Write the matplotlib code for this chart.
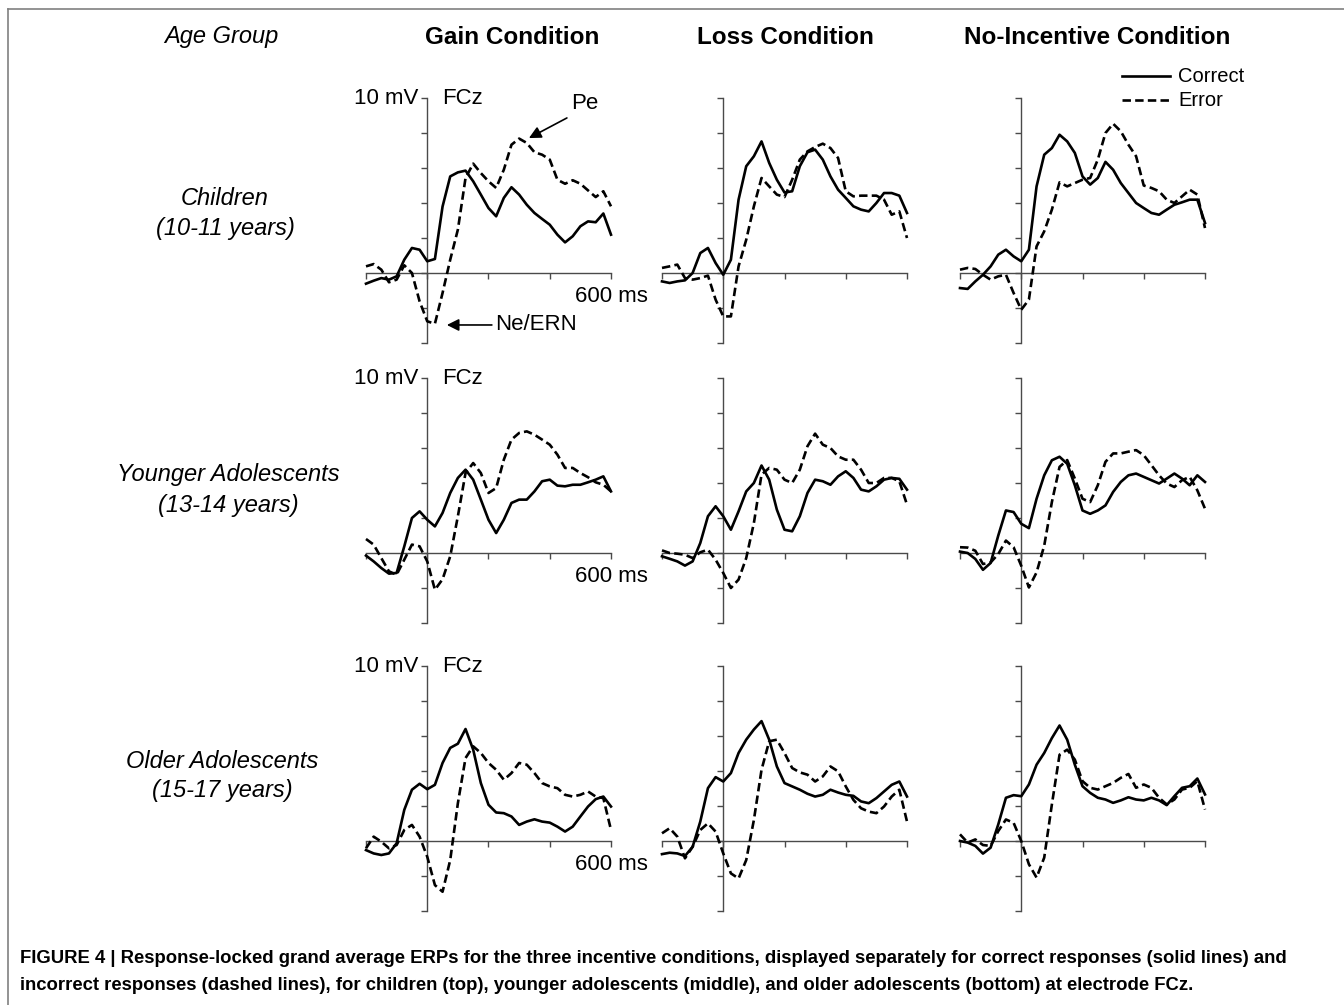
import numpy as np
import matplotlib
matplotlib.use("Agg")
import matplotlib.pyplot as plt
from matplotlib.lines import Line2D

plt.rcParams['font.family'] = ['Liberation Sans', 'DejaVu Sans']

W, H = 1344, 1005

# time grid (ms) and grand averages (mV)
times = [-200, -175, -150, -125, -100, -75, -50, -25, 0, 25, 50, 75, 100, 125, 150, 175,
         200, 225, 250, 275, 300, 325, 350, 375, 400, 425, 450, 475, 500, 525, 550, 575, 600]

gain_child_correct = [-0.61, -0.44, -0.29, -0.38, -0.19, 0.76, 1.43, 1.33, 0.67, 0.8, 3.8, 5.52, 5.75, 5.85,
                      5.24, 4.48, 3.71, 3.24, 4.29, 4.9, 4.48, 3.9, 3.43, 3.09, 2.76, 2.19, 1.75, 2.1, 2.67,
                      2.95, 2.9, 3.4, 2.19]
gain_child_error = [0.38, 0.51, 0.19, -0.53, -0.38, 0.44, 0.0, -1.62, -2.76, -2.9, -1.14, 0.76, 2.48, 5.43,
                    6.25, 5.71, 5.24, 4.86, 5.9, 7.33, 7.68, 7.43, 6.9, 6.76, 6.48, 5.33, 5.1, 5.3, 5.1,
                    4.72, 4.34, 4.67, 3.81]
loss_child_correct = [-0.48, -0.57, -0.48, -0.42, 0.0, 1.14, 1.43, 0.57, -0.1, 0.76, 4.19, 6.1, 6.67, 7.52,
                      6.29, 5.33, 4.6, 4.67, 6.1, 6.9, 7.05, 6.48, 5.52, 4.76, 4.29, 3.81, 3.62, 3.52, 4.0,
                      4.57, 4.57, 4.42, 3.43]
loss_child_error = [0.29, 0.38, 0.48, -0.29, -0.38, -0.29, -0.15, -1.52, -2.48, -2.48, 0.38, 1.9, 3.81, 5.43,
                    4.95, 4.48, 4.34, 5.33, 6.48, 6.95, 7.2, 7.39, 7.14, 6.57, 4.67, 4.38, 4.42, 4.42, 4.42,
                    4.19, 3.33, 3.52, 2.0]
noinc_child_correct = [-0.86, -0.91, -0.48, -0.1, 0.38, 1.05, 1.33, 0.95, 0.67, 1.33, 4.95, 6.76, 7.14, 7.9,
                       7.52, 6.86, 5.52, 5.05, 5.43, 6.35, 5.9, 5.14, 4.57, 4.0, 3.71, 3.43, 3.33, 3.62, 3.9,
                       4.04, 4.19, 4.19, 2.86]
noinc_child_error = [0.19, 0.29, 0.23, -0.1, -0.38, -0.19, -0.1, -1.14, -2.1, -1.52, 1.52, 2.38, 3.62, 5.18,
                     4.95, 5.14, 5.33, 5.43, 6.48, 8.0, 8.53, 8.1, 7.33, 6.67, 5.0, 4.86, 4.67, 4.19, 4.0,
                     4.38, 4.76, 4.48, 2.57]

gain_yadol_correct = [-0.15, -0.48, -0.86, -1.18, -1.14, 0.38, 2.0, 2.38, 1.9, 1.52, 2.29, 3.43, 4.29, 4.76,
                      4.19, 3.05, 1.9, 1.14, 1.9, 2.86, 3.05, 3.05, 3.52, 4.1, 4.19, 3.85, 3.81, 3.9, 3.9,
                      4.04, 4.19, 4.38, 3.52]
gain_yadol_error = [0.8, 0.48, -0.29, -1.05, -1.24, -0.38, 0.48, 0.38, -0.48, -2.1, -1.5, -0.19, 2.1, 4.57,
                    5.14, 4.57, 3.43, 3.71, 5.33, 6.48, 6.86, 6.95, 6.76, 6.48, 6.19, 5.62, 4.86, 4.86, 4.57,
                    4.33, 4.04, 3.9, 3.52]
loss_yadol_correct = [-0.19, -0.33, -0.48, -0.72, -0.48, 0.57, 2.1, 2.67, 2.1, 1.33, 2.38, 3.52, 4.0, 5.0,
                      4.19, 2.48, 1.33, 1.24, 2.1, 3.43, 4.19, 4.1, 3.9, 4.38, 4.67, 4.29, 3.62, 3.52, 3.81,
                      4.19, 4.29, 4.24, 3.62]
loss_yadol_error = [0.15, 0.0, -0.04, -0.1, -0.29, 0.04, 0.19, -0.38, -1.14, -2.0, -1.52, -0.29, 1.71, 4.48,
                    4.86, 4.76, 4.19, 4.0, 4.76, 6.1, 6.82, 6.19, 6.0, 5.52, 5.33, 5.33, 4.76, 4.0, 4.0,
                    4.29, 4.29, 4.1, 2.76]
noinc_yadol_correct = [0.08, 0.0, -0.34, -0.96, -0.57, 1.0, 2.43, 2.34, 1.67, 1.42, 3.1, 4.44, 5.3, 5.5,
                       5.1, 3.87, 2.43, 2.24, 2.43, 2.72, 3.49, 4.06, 4.44, 4.54, 4.35, 4.16, 3.97, 4.25,
                       4.54, 4.25, 3.87, 4.44, 4.06]
noinc_yadol_error = [0.33, 0.31, 0.13, -0.63, -0.54, -0.06, 0.71, 0.33, -0.73, -1.97, -1.11, 0.42, 2.91,
                     4.92, 5.31, 4.25, 3.1, 2.91, 3.87, 5.21, 5.69, 5.69, 5.79, 5.88, 5.59, 5.02, 4.44, 3.97,
                     3.77, 4.16, 4.35, 3.58, 2.53]

gain_oadol_correct = [-0.52, -0.71, -0.8, -0.71, -0.13, 1.78, 2.93, 3.27, 2.96, 3.21, 4.46, 5.32, 5.56, 6.4,
                      5.22, 3.31, 2.07, 1.63, 1.59, 1.4, 0.92, 1.11, 1.24, 1.11, 1.05, 0.82, 0.54, 0.82, 1.4,
                      1.97, 2.39, 2.54, 1.97]
gain_oadol_error = [-0.42, 0.25, -0.04, -0.42, -0.23, 0.63, 0.92, 0.25, -0.9, -2.52, -2.9, -1.09, 2.16, 4.74,
                    5.41, 5.03, 4.46, 4.07, 3.5, 3.88, 4.46, 4.36, 3.88, 3.31, 3.12, 3.02, 2.64, 2.54, 2.64,
                    2.83, 2.54, 2.45, 0.63]
loss_oadol_correct = [-0.75, -0.67, -0.71, -0.86, -0.33, 1.11, 3.02, 3.65, 3.4, 3.88, 5.03, 5.79, 6.37, 6.85,
                      5.79, 4.26, 3.31, 3.12, 2.93, 2.7, 2.54, 2.64, 2.93, 2.77, 2.64, 2.58, 2.26, 2.16, 2.45,
                      2.83, 3.21, 3.4, 2.54]
loss_oadol_error = [0.44, 0.73, 0.25, -0.99, -0.33, 0.63, 1.01, 0.54, -0.71, -1.85, -2.14, -1.09, 1.2, 4.07,
                    5.7, 5.79, 5.03, 4.17, 3.92, 3.79, 3.4, 3.69, 4.26, 3.98, 3.12, 2.35, 1.87, 1.68, 1.59,
                    1.97, 2.54, 2.93, 1.11]
noinc_oadol_correct = [0.0, -0.09, -0.28, -0.72, -0.38, 0.95, 2.47, 2.62, 2.56, 3.23, 4.36, 5.03, 5.88, 6.6,
                       5.79, 4.36, 3.13, 2.75, 2.47, 2.37, 2.18, 2.32, 2.5, 2.37, 2.32, 2.47, 2.32, 2.05, 2.56,
                       3.04, 3.13, 3.57, 2.66]
noinc_oadol_error = [0.38, -0.09, 0.09, -0.23, -0.28, 0.57, 1.23, 1.04, 0.0, -1.33, -2.09, -0.95, 2.09, 4.93,
                     5.22, 4.65, 3.42, 3.04, 2.94, 3.13, 3.32, 3.61, 3.83, 3.04, 3.23, 3.04, 2.47, 2.09, 2.37,
                     2.94, 3.04, 3.42, 1.8]

conditions = ['Gain Condition', 'Loss Condition', 'No-Incentive Condition']
age_groups = [('Children', '(10-11 years)'),
              ('Younger Adolescents', '(13-14 years)'),
              ('Older Adolescents', '(15-17 years)')]

panels = [
    [(gain_child_correct, gain_child_error), (loss_child_correct, loss_child_error),
     (noinc_child_correct, noinc_child_error)],
    [(gain_yadol_correct, gain_yadol_error), (loss_yadol_correct, loss_yadol_error),
     (noinc_yadol_correct, noinc_yadol_error)],
    [(gain_oadol_correct, gain_oadol_error), (loss_oadol_correct, loss_oadol_error),
     (noinc_oadol_correct, noinc_oadol_error)],
]

caption_lines = [
    "FIGURE 4 | Response-locked grand average ERPs for the three incentive conditions, displayed "
    "separately for correct responses (solid lines) and",
    "incorrect responses (dashed lines), for children (top), younger adolescents (middle), and older "
    "adolescents (bottom) at electrode FCz.",
]


def px_rect(left, top, w, h):
    return [left / W, 1 - (top + h) / H, w / W, h / H]


def fx(px):
    return px / W


def fy(py):
    return 1 - py / H


fig = plt.figure(figsize=(W / 100, H / 100), dpi=100)

col_left = [366, 662, 960]
row_top = [98, 378, 666]
axis_col = '#4a4a4a'
dash = (3.2, 1.6)

for r in range(3):
    for c in range(3):
        ax = fig.add_axes(px_rect(col_left[c], row_top[r], 245, 245))
        correct, error = panels[r][c]
        ax.plot(times, correct, color='black', lw=1.9, solid_joinstyle='round', zorder=3, clip_on=False)
        ax.plot(times, error, color='black', lw=1.9, dashes=dash, zorder=3, clip_on=False)
        ax.set_xlim(-200, 600)
        ax.set_ylim(-4, 10)
        ax.patch.set_alpha(0)
        for s in ['top', 'right']:
            ax.spines[s].set_visible(False)
        ax.spines['left'].set_position(('data', 0))
        ax.spines['bottom'].set_position(('data', 0))
        for s in ['left', 'bottom']:
            ax.spines[s].set_color(axis_col)
            ax.spines[s].set_linewidth(1.0)
        ax.set_xticks([-200, 0, 200, 400, 600])
        ax.set_yticks(np.arange(-4, 11, 2))
        ax.set_xticklabels([])
        ax.set_yticklabels([])
        ax.tick_params(direction='out', length=4, width=1.0, color=axis_col)
        if c == 0:
            ax.text(-30, 10, '10 mV', ha='right', va='center', fontsize=16)
            ax.text(48, 10, 'FCz', ha='left', va='center', fontsize=16)
            ax.text(600, -1.37, '600 ms', ha='center', va='center', fontsize=16)
        if r == 0 and c == 0:
            ax.annotate('', xy=(332, 7.71), xytext=(456, 8.86),
                        arrowprops=dict(arrowstyle='-|>', color='black', lw=1.2,
                                        mutation_scale=18, shrinkA=0, shrinkB=0))
            ax.text(515, 9.66, 'Pe', ha='center', va='center', fontsize=16)
            ax.annotate('', xy=(64, -2.97), xytext=(211, -2.97),
                        arrowprops=dict(arrowstyle='-|>', color='black', lw=1.2,
                                        mutation_scale=18, shrinkA=0, shrinkB=0))
            ax.text(221, -2.97, 'Ne/ERN', ha='left', va='center', fontsize=16)

# column and row headings
fig.text(fx(221), fy(36), 'Age Group', ha='center', va='center', fontsize=17, style='italic')
for x, name in zip([512, 785, 1097], conditions):
    fig.text(fx(x), fy(38), name, ha='center', va='center', fontsize=17.5, weight='bold')
for (x, y), (name, years) in zip([(225, 198), (228, 475), (222, 761)], age_groups):
    fig.text(fx(x), fy(y), name, ha='center', va='center', fontsize=17, style='italic')
    fig.text(fx(x), fy(y + 30), years, ha='center', va='center', fontsize=17, style='italic')

# legend
fig.add_artist(Line2D([fx(1122), fx(1170)], [fy(76), fy(76)], color='black', lw=1.9))
fig.add_artist(Line2D([fx(1122), fx(1170)], [fy(100), fy(100)], color='black', lw=1.9, dashes=dash))
fig.text(fx(1178), fy(76), 'Correct', ha='left', va='center', fontsize=14.5)
fig.text(fx(1178), fy(100), 'Error', ha='left', va='center', fontsize=14.5)

# frame and caption
fig.add_artist(Line2D([fx(8), fx(8)], [fy(9), 0], color='#808080', lw=1.2))
fig.add_artist(Line2D([fx(8), 1], [fy(9), fy(9)], color='#808080', lw=1.2))
for y, line in zip([958, 985], caption_lines):
    fig.text(fx(20), fy(y), line, ha='left', va='center', fontsize=13.3, weight='bold')

fig.savefig('out.png', dpi=100)
